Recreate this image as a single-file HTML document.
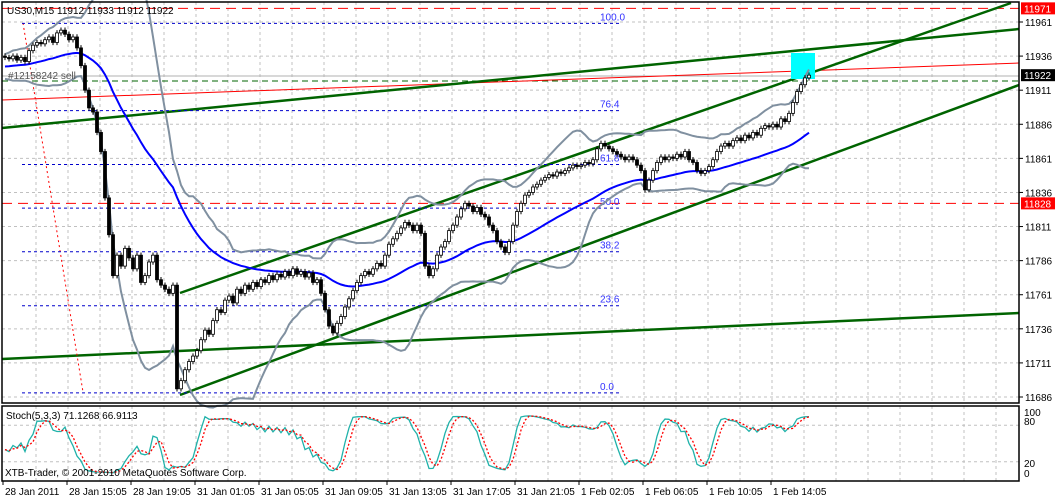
<!DOCTYPE html>
<html><head><meta charset="utf-8"><style>
html,body{margin:0;padding:0;background:#fff;}
svg{display:block;font-family:"Liberation Sans",sans-serif;}
</style></head><body>
<svg id="chart" width="1057" height="498" viewBox="0 0 1057 498" xmlns="http://www.w3.org/2000/svg">
<rect x="0" y="0" width="1057" height="498" fill="#fff"/>
<g id="grid"></g>
<g id="objects"></g>
<g id="bands"></g>
<g id="candles"></g>
<g id="stoch"></g>
<g id="axes"></g>
</svg>
<script>
const closes=[11935,11934,11936,11933,11935,11932,11940,11944,11946,11945,
11948,11950,11946,11953,11955,11952,11948,11950,11942,11929,
11911,11898,11895,11880,11866,11832,11805,11775,11790,11782,
11795,11788,11780,11790,11770,11775,11785,11790,11772,11768,
11765,11762,11768,11692,11698,11706,11712,11716,11720,11728,
11735,11732,11742,11750,11748,11757,11760,11755,11765,11762,
11768,11765,11770,11767,11772,11770,11775,11772,11776,11774,
11778,11775,11780,11776,11778,11774,11777,11770,11772,11762,
11750,11738,11733,11740,11745,11752,11758,11764,11770,11775,
11778,11776,11780,11784,11782,11790,11798,11802,11806,11810,
11814,11812,11808,11812,11806,11782,11775,11780,11790,11796,
11800,11808,11812,11818,11824,11828,11826,11822,11825,11820,
11818,11812,11808,11800,11796,11792,11800,11812,11822,11828,
11834,11836,11840,11842,11845,11847,11849,11848,11851,11850,
11852,11854,11856,11855,11856,11858,11857,11860,11868,11872,
11870,11868,11866,11864,11862,11860,11862,11860,11856,11852,
11838,11845,11852,11858,11862,11860,11862,11861,11864,11862,
11866,11860,11858,11852,11850,11852,11855,11860,11866,11870,
11872,11870,11874,11876,11874,11878,11876,11880,11878,11883,
11885,11884,11886,11884,11890,11888,11894,11902,11910,11915,
11920,11922];
const priorClose=11928;
const priceTicks=[11961,11936,11911,11886,11861,11836,11811,11786,11761,11736,11711,11686];
const timeLabels=["28 Jan 2011","28 Jan 15:05","28 Jan 19:05","31 Jan 01:05","31 Jan 05:05","31 Jan 09:05","31 Jan 13:05","31 Jan 17:05","31 Jan 21:05","1 Feb 02:05","1 Feb 06:05","1 Feb 10:05","1 Feb 14:05"];
const fibLevels=[100.0,76.4,61.8,50.0,38.2,23.6,0.0];
const fibHigh=11960, fibLow=11689;

const NS="http://www.w3.org/2000/svg";
const PL=2,PR=1019,PT=2,PB=403,ST=406,SB=481;
function yP(p){return 22+(11961-p)*375/275;}
function xB(i){return 5+4*i;}
function yS(v){return 474-v*61/100;}
function mk(tag,attrs,parent){const e=document.createElementNS(NS,tag);for(const k in attrs)e.setAttribute(k,attrs[k]);document.getElementById(parent).appendChild(e);return e;}
function txt(s,x,y,attrs,parent){const e=mk('text',Object.assign({x:x,y:y,'font-size':11},attrs),parent);e.textContent=s;return e;}

for(let x=4+32;x<PR;x+=32){
 const l=mk('line',{x1:x,y1:PT,x2:x,y2:PB,stroke:'#c0c0c0','stroke-dasharray':'3,3'},'grid');
 
 const l2=mk('line',{x1:x,y1:ST,x2:x,y2:SB,stroke:'#c0c0c0','stroke-dasharray':'3,3'},'grid');
 
}
priceTicks.forEach(p=>{
 const l=mk('line',{x1:PL,y1:yP(p),x2:PR,y2:yP(p),stroke:'#c0c0c0','stroke-dasharray':'3,3'},'grid');
 
});
[80,20].forEach(v=>{
 const l=mk('line',{x1:PL,y1:yS(v),x2:PR,y2:yS(v),stroke:'#c0c0c0','stroke-dasharray':'3,3'},'grid');
 
});

function line(x1,y1,x2,y2,st,w,dash,name){const l=mk('line',{x1:x1,y1:y1,x2:x2,y2:y2,stroke:st,'stroke-width':w},'objects');if(dash)l.setAttribute('stroke-dasharray',dash);
 return l;}
line(PL,yP(11971),PR,yP(11971),'#f00',1,'10,6','red-level-11971');
line(PL,yP(11828),PR,yP(11828),'#f00',1,'10,6','red-level-11828');
line(PL,76,PR,76,'#b0b0b0',1,null,'current-price-line');
line(PL,81,PR,81,'#006400',1,'6,4','order-line');
line(PL,100,PR,63,'#f00',1,null,'red-trendline');
line(PL,128,PR,29,'#006400',2.5,null,'upper-trendline');
line(PL,359,PR,313,'#006400',2.5,null,'lower-trendline');
line(180,293,1011,3,'#006400',2.5,null,'channel-upper');
line(180,395,PR,85,'#006400',2.5,null,'channel-lower');
line(23,23,83,392,'#f00',1,'2,3','fib-trend-line');
fibLevels.forEach(f=>{
 const p=fibLow+(fibHigh-fibLow)*f/100,y=yP(p);
 line(22,y,622,y,'#00c',1,'3,3','fib-level-'+f);
 const t=txt(f.toFixed(1),600,y-3,{fill:'#33f','font-size':10},'objects');
 
});
const cy=mk('rect',{x:791,y:53,width:24,height:26,fill:'#00ffff'},'objects');


const N=closes.length, opens=closes.map((c,i)=>i?closes[i-1]:c+1);
const highs=closes.map((c,i)=>Math.max(c,opens[i])+2), lows=closes.map((c,i)=>Math.min(c,opens[i])-2);
function cAt(j){return j<0?priorClose:closes[j];}
let ma=[],k=2/41,prev=priorClose;for(let i=0;i<N;i++){prev=prev+k*(closes[i]-prev);ma.push(prev);}
let up=[],dn=[];
for(let i=0;i<N;i++){let s=[];for(let j=i-19;j<=i;j++)s.push(cAt(j));const m=s.reduce((a,b)=>a+b,0)/s.length;
 const sd=Math.sqrt(s.reduce((a,b)=>a+(b-m)*(b-m),0)/s.length);up.push(m+2*sd+6);dn.push(m-2*sd-6);}
function pl(arr,st,w,name,grp,yf,dash){const pts=arr.map((v,i)=>xB(i)+','+yf(v).toFixed(1)).join(' ');
 const e=mk('polyline',{points:pts,fill:'none',stroke:st,'stroke-width':w},grp);if(dash)e.setAttribute('stroke-dasharray',dash);
 }
pl(up,'#8090a0',2,'bollinger-upper','bands',yP);
pl(dn,'#8090a0',2,'bollinger-lower','bands',yP);
pl(ma,'#0000ff',2,'moving-average','bands',yP);

for(let i=0;i<N;i++){
 const x=xB(i),o=opens[i],c=closes[i];
 const w=mk('line',{x1:x,y1:yP(highs[i]),x2:x,y2:yP(lows[i]),stroke:'#000'},'candles');
 
 const top=yP(Math.max(o,c)),h=Math.max(1,Math.abs(yP(o)-yP(c)));
 const r=mk('rect',{x:x-1.5,y:top,width:3,height:h,fill:c>=o?'#fff':'#000',stroke:'#000','stroke-width':0.8},'candles');
 
}

let raw=[];for(let i=0;i<N;i++){const a=Math.max(0,i-4);const hh=Math.max(...highs.slice(a,i+1)),ll=Math.min(...lows.slice(a,i+1));raw.push(hh>ll?(closes[i]-ll)/(hh-ll)*100:50);}
function sma(a,n){return a.map((v,i)=>{const s=a.slice(Math.max(0,i-n+1),i+1);return s.reduce((x,y)=>x+y,0)/s.length;});}
const main=sma(raw,3),sig=sma(main,3);
pl(main,'#20b2aa',1.3,'stoch-main','stoch',yS);
pl(sig,'#f00',1.3,'stoch-signal','stoch',yS,'2,2');

let f=mk('rect',{x:PL,y:PT,width:PR-PL,height:PB-PT,fill:'none',stroke:'#000','stroke-width':1.5},'axes');

f=mk('rect',{x:PL,y:ST,width:PR-PL,height:SB-ST,fill:'none',stroke:'#000','stroke-width':1.5},'axes');

priceTicks.forEach(p=>{const y=yP(p);
 const t=mk('line',{x1:PR,y1:y,x2:PR+4,y2:y,stroke:'#000'},'axes');
 const l=txt(p,1025,y+4,{fill:'#000','font-size':10},'axes');});
function tag(p,bg,name){const y=yP(p);const r=mk('rect',{x:1021,y:y-6,width:34,height:12,fill:bg},'axes');
 const l=txt(p,1024,y+4,{fill:'#fff','font-size':10},'axes');}
tag(11971,'#f00','price-tag-11971');tag(11828,'#f00','price-tag-11828');tag(11922,'#000','current-price-tag');
[[100,416],[80,425],[20,467],[0,477]].forEach(a=>{const l=txt(a[0],1024,a[1],{fill:'#000','font-size':10},'axes');});
timeLabels.forEach((s,i)=>{const x=3+64*i;
 const t=mk('line',{x1:x,y1:SB,x2:x,y2:SB+4,stroke:'#000'},'axes');
 const l=txt(s,x+2,495,{fill:'#000','font-size':10},'axes');});
let t=txt('US30,M15  11912 11933 11912 11922',7,14,{fill:'#000','font-size':10},'axes');
t=txt('#12158242 sell',8,79,{fill:'#555','font-size':10},'axes');
t=txt('Stoch(5,3,3) 71.1268 66.9113',6,419,{fill:'#000','font-size':10},'axes');
t=txt('XTB-Trader, © 2001-2010 MetaQuotes Software Corp.',5,476,{fill:'#000','font-size':10},'axes');
</script>
</body></html>
